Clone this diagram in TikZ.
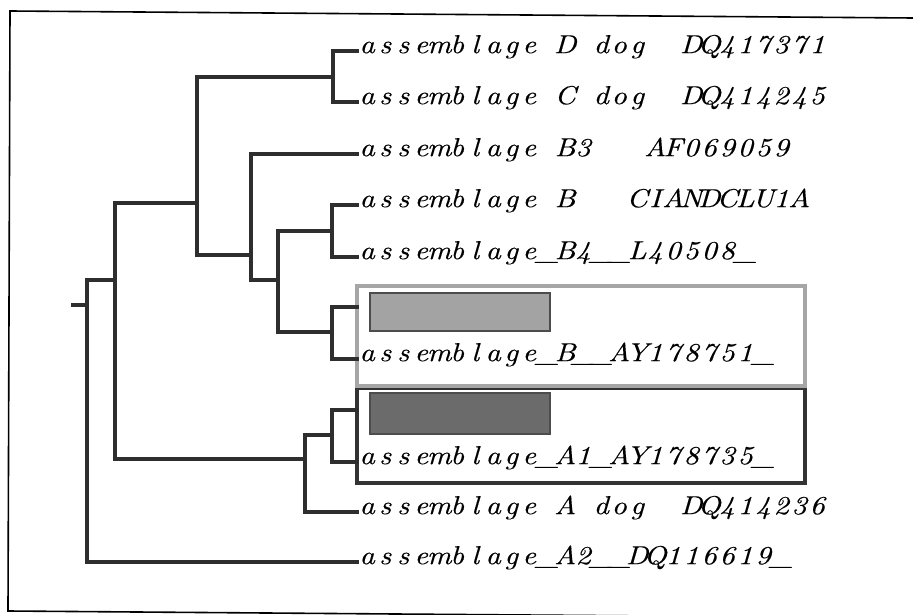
\documentclass[tikz,border=0pt]{standalone}
\usepackage{fontspec}
\usepackage{graphicx}
\newfontfamily\lblfont{lmroman10-italic.otf}[FakeBold=0.3]
\newdimen\monopitch
\monopitch=18pt
\ExplSyntaxOn
\NewDocumentCommand\mono{m}{\str_map_inline:nn{#1}{\makebox[\monopitch][c]{\scalebox{1.15}[1]{##1}}}}
\ExplSyntaxOff
\newcommand\gap[1]{\hspace*{#1\monopitch}}
\begin{document}
\begin{tikzpicture}[x=1pt,y=-1pt,
  br/.style={line width=3.2pt, draw=black!82, line cap=rect, line join=miter},
  lbl/.style={anchor=mid west, inner sep=0pt, font=\lblfont\fontsize{26}{28}\selectfont},
  bar/.style={draw=black!70, line width=1.6pt, minimum width=180pt, inner sep=0pt},
]
\useasboundingbox (0,0) rectangle (913,615);
\clip (0,0) rectangle (913,615);
% frame
\draw[line width=1.6pt] (913,18) -- (10,11) -- (8,611) -- (913,618);

% highlight boxes
\node[draw=black!80, line width=3.2pt, minimum width=448pt, minimum height=95pt, inner sep=0pt] (box2) at (581,435.5) {};
\draw[black!50, line width=3.2pt] (box2.north west) -- (box2.north east);
\node[draw=black!35, line width=3.2pt, minimum width=448pt, minimum height=100pt, inner sep=0pt] (box1) at (581,336) {};
\node[bar, fill=black!36, minimum height=38pt] (bar1) at (460,312) {};
\node[bar, fill=black!58, minimum height=41pt] (bar2) at (460,413.5) {};

% leaf tips
\coordinate (tD) at (357,51);
\coordinate (tC) at (357,102);
\coordinate (tB3) at (357,154);
\coordinate (tB) at (357,205);
\coordinate (tB4) at (357,257);
\coordinate (tG1) at (357,307);
\coordinate (tBAY) at (357,359);
\coordinate (tG2) at (357,410);
\coordinate (tA1) at (357,462);
\coordinate (tAd) at (357,512);
\coordinate (tA2) at (357,562);
% internal nodes
\coordinate (nDC) at (333,77);
\coordinate (nBB4) at (332,231);
\coordinate (nG1) at (332,332);
\coordinate (nG2) at (332,435);
\coordinate (nX1) at (278,280);
\coordinate (nX2) at (251,255);
\coordinate (nX3) at (197,203);
\coordinate (nA) at (305,459);
\coordinate (nX4) at (115,280);
\coordinate (nR) at (87,305);
\coordinate (stub) at (73,305);

\draw[br] (nDC) |- (tD);  \draw[br] (nDC) |- (tC);
\draw[br] (nBB4) |- (tB); \draw[br] (nBB4) |- (tB4);
\draw[br] (nG1) |- (tG1); \draw[br] (nG1) |- (tBAY);
\draw[br] (nG2) |- (tG2); \draw[br] (nG2) |- (tA1);
\draw[br] (nX1) |- (nBB4); \draw[br] (nX1) |- (nG1);
\draw[br] (nX2) |- (tB3); \draw[br] (nX2) |- (nX1);
\draw[br] (nX3) |- (nDC); \draw[br] (nX3) |- (nX2);
\draw[br] (nA) |- (nG2);  \draw[br] (nA) |- (tAd);
\draw[br] (nX4) |- (nX3); \draw[br] (nX4) |- (nA);
\draw[br] (nR) |- (nX4);  \draw[br] (nR) |- (tA2);
\draw[br] (stub) -- (nR);

% labels
\node[lbl] (lD) at (358,51) {\mono{assemblage}\gap{1}\mono{D}\gap{1}\mono{dog}\gap{2}\mono{DQ417371}};
\node[lbl] (lC) at (358,102) {\mono{assemblage}\gap{1}\mono{C}\gap{1}\mono{dog}\gap{2}\mono{DQ414245}};
\node[lbl] (lB3) at (358,154) {\mono{assemblage}\gap{1}\mono{B3}\gap{3}\mono{AF069059}};
\node[lbl] (lB) at (358,205) {\mono{assemblage}\gap{1}\mono{B}\gap{3}\mono{CIANDCLU1A}};
\node[lbl] (lB4) at (358,257) {\mono{assemblage_B4__L40508_}};
\node[lbl] (lBAY) at (358,359) {\mono{assemblage_B__AY178751_}};
\node[lbl] (lA1) at (358,462) {\mono{assemblage_A1_AY178735_}};
\node[lbl] (lAd) at (358,512) {\mono{assemblage}\gap{1}\mono{A}\gap{1}\mono{dog}\gap{2}\mono{DQ414236}};
\node[lbl] (lA2) at (358,562) {\mono{assemblage_A2__DQ116619_}};
\end{tikzpicture}
\end{document}
